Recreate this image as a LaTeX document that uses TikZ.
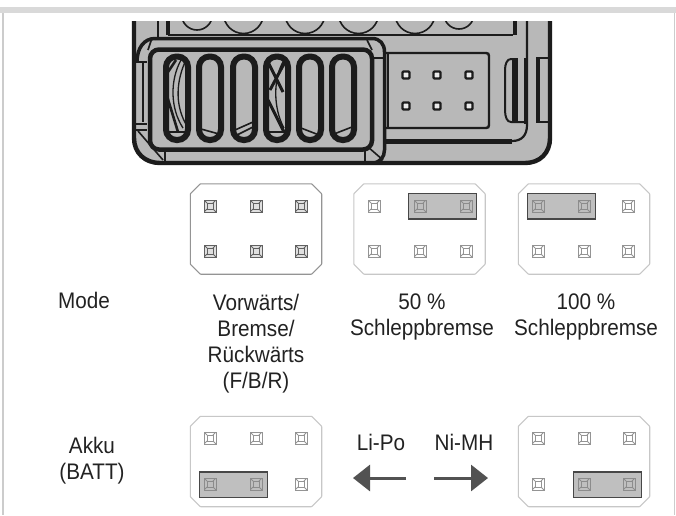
\documentclass[tikz,border=0pt]{standalone}
\usepackage{fontspec}
\setmainfont[FakeStretch=0.92]{Liberation Sans}
\usetikzlibrary{arrows.meta}
\definecolor{devfill}{HTML}{B8B8B8}
\definecolor{devline}{HTML}{1C1C1C}
\definecolor{txt}{HTML}{222222}
\colorlet{pindark}{black!62}
\colorlet{pinlight}{black!42}
\colorlet{pinover}{black!45}
\colorlet{jumpfill}{black!25}
\tikzset{
  x=1pt,y=-1pt,
  dev/.style={draw=devline,line width=1.6pt},
  slot/.style={draw=devline,line width=6pt,fill=devfill,rounded corners=10.5pt},
  slotline/.style={draw=devline,line width=1.3pt},
  hole/.style={draw=devline,line width=2.2pt,fill=white!70!devfill,minimum size=7pt,inner sep=0pt,rounded corners=1pt,rectangle},
  panelbox/.style={rectangle,minimum width=131pt,minimum height=90pt,inner sep=0pt},
  paneledge/.style={draw=#1,line width=1.1pt,fill=white,rounded corners=.6pt},
  jump/.style={draw=black!72,line width=1.5pt,fill=jumpfill,inner sep=0pt,minimum width=68pt,minimum height=25.5pt,rectangle},
  label/.style={font=\fontsize{22.5}{26}\selectfont,text=txt,align=center,inner sep=0pt},
  flow/.style={draw=black!68,line width=3pt,-{Triangle[length=17pt,width=26pt]}},
  pin/.style 2 args={rectangle,draw=#1,line width=.7pt,fill=#2,minimum size=12pt,inner sep=0pt,
    path picture={\draw[#1,line width=.5pt]
      ([xshift=3pt,yshift=-3pt]path picture bounding box.north west) rectangle ([xshift=-3pt,yshift=3pt]path picture bounding box.south east);
      \draw[#1,line width=.8pt] (path picture bounding box.north west)--([xshift=3pt,yshift=-3pt]path picture bounding box.north west)
      (path picture bounding box.north east)--([xshift=-3pt,yshift=-3pt]path picture bounding box.north east)
      (path picture bounding box.south west)--([xshift=3pt,yshift=3pt]path picture bounding box.south west)
      (path picture bounding box.south east)--([xshift=-3pt,yshift=3pt]path picture bounding box.south east);}},
}
\newcommand{\pinrow}[5]{%
  \foreach \px/\pn in {#5}{\node[pin={#3}{#4}] (#1\pn) at (\px,#2) {};}}
\newcommand{\octpanel}[4]{%
  \node[panelbox] (#1) at (#2,#3) {};
  \draw[paneledge=#4] ([xshift=10pt]#1.north west) -- ([xshift=-10pt]#1.north east) -- ([yshift=-10pt]#1.north east) -- ([yshift=10pt]#1.south east) -- ([xshift=-10pt]#1.south east) -- ([xshift=10pt]#1.south west) -- ([yshift=10pt]#1.south west) -- ([yshift=-10pt]#1.north west) -- cycle;}
\begin{document}
\begin{tikzpicture}
\useasboundingbox (0,0) rectangle (676,515);
\fill[white] (0,0) rectangle (676,515);
% page frame
\fill[black!15] (0,7) rectangle (676,13);
\fill[black!20] (2,13) rectangle (3.5,515);
\fill[black!20] (673.5,13) rectangle (675,515);
% device
\begin{scope}
\clip (120,21) rectangle (560,175);
\path[fill=devfill,draw=devline,line width=4.4pt] (134,10) -- (134,138) .. controls (134,153) and (145,163) .. (160,163) -- (525,163) .. controls (540,163) and (550,153) .. (550,138) -- (550,10);
% circles
\foreach \cx/\cy/\cr in {197/14.6/15.4,243.5/13.5/20,305/13.5/20,358.5/13.5/20,415/13.5/20,459/14/15}{\draw[dev] (\cx,\cy) circle[radius=\cr];}
\draw[dev] (158,15) -- (158,37);
\draw[dev,line width=4.5pt] (168,15) -- (168,35);
\draw[dev,line width=2pt] (168,35) -- (513,35);
\draw[dev,line width=4.5pt] (515,15) -- (515,35);
\draw[dev,line width=2.2pt] (527,15) -- (527,125) .. controls (527,135) and (522,141) .. (512,141);
\draw[devline,line width=5pt] (512,141) -- (383,141);
% left piece
\draw[dev,line width=2.6pt] (136,62) -- (147,62);
\draw[dev,line width=2pt] (143,62) -- (143,122);
\draw[dev,line width=2.6pt] (132,124) -- (147,124) (132,130) -- (147,130);
% collar
\draw[dev,line width=3.5pt] (155,38.5) -- (372,38.5) .. controls (380,38.5) and (384.5,44) .. (384.5,52) -- (384.5,150) .. controls (384.5,157) and (380,163) .. (372,163);
\draw[dev,line width=3.5pt] (137,62) .. controls (137,48) and (144,38.5) .. (155,38.5);
\draw[dev] (165,150) -- (165,163);
\draw[dev] (365,150) -- (365,163);
\draw[dev] (138,131) -- (163,160);
\draw[dev] (368,147) -- (383,160);
\draw[dev] (372,58) -- (385,58);
\draw[dev] (152,38) -- (148,50);
\draw[dev] (367,40) -- (372,50);
% inner tray
\draw[draw=devline,line width=4.5pt,fill=devfill,rounded corners=9pt] (150,49.5) rectangle (372,149.5);
% slots
\foreach \sx/\sn in {177/1,210/2,244/3,277/4,310/5,343/6}{
  \draw[slot] (\sx-11,56.5) rectangle (\sx+11,140);
}
% slot details
\draw[slotline] (181,60) .. controls (170,80) and (170,108) .. (183,128);
\draw[slotline] (185,62) .. controls (175,85) and (176,108) .. (187,126);
\draw[devline,line width=2.6pt] (168,72) -- (176,60) (167,96) -- (178,132);
\draw[slotline,line width=1.6pt] (168,132) -- (186,132);
\draw[slotline,line width=1.6pt] (201,129) -- (219,134);
\draw[slotline,line width=1.6pt] (235,130) -- (253,122) (235,136) -- (253,127);
\draw[slotline] (284,60) .. controls (273,78) and (273,108) .. (284,128);
\draw[devline,line width=3pt] (268,62) -- (283,92) (286,60) -- (270,90);
\draw[devline,line width=3pt] (268,100) -- (284,132);
\draw[slotline,line width=1.6pt] (268,132) -- (286,132);
\draw[slotline,line width=1.6pt] (301,128) -- (319,135);
\draw[slotline,line width=1.6pt] (334,134) -- (352,127);
% header
\draw[dev,line width=2.4pt] (385,53) -- (486,53) .. controls (488,53) and (489,54) .. (489,56) -- (489,125) .. controls (489,127) and (488,128) .. (486,128) -- (385,128);
\draw[dev,line width=2pt] (388,53) -- (388,128);
\foreach \hx/\hn in {406/1,437/2,469/3}{
  \node[hole] (ha\hn) at (\hx,75) {};
  \node[hole] (hb\hn) at (\hx,106) {};
}
% side clip
\draw[dev,line width=2pt] (516,59) -- (511,59) .. controls (507,59) and (505,64) .. (505,70) -- (505,110) .. controls (505,117) and (507,122) .. (511,122) -- (525,122);
\draw[dev,line width=6pt] (515,58) -- (515,122);
\draw[dev,line width=2pt] (524.5,58) -- (524.5,124);
\draw[dev,line width=2pt] (550,58) -- (538,58) (538,122) -- (550,122);
\draw[dev,line width=4pt] (538,57) -- (538,123);
\end{scope}
% panels
\octpanel{p1}{256}{229}{black!42}
\octpanel{p2}{419.5}{229}{black!22}
\octpanel{p3}{584}{229}{black!22}
\octpanel{p4}{256}{461.5}{black!22}
\octpanel{p5}{584}{461.5}{black!22}
\node[jump] (j2) at (442.5,206) {};
\node[jump] (j3) at (561.5,206) {};
\node[jump] (j4) at (233.5,484.5) {};
\node[jump] (j5) at (607.5,484.5) {};
\pinrow{a}{206}{pindark}{black!12}{210/1,256/2,301/3}
\pinrow{b}{251}{pindark}{black!12}{210/1,256/2,301/3}
\pinrow{c}{206}{pinlight}{white}{374/1}
\pinrow{c}{206}{pinover}{jumpfill}{420/2,466/3}
\pinrow{d}{251}{pinlight}{white}{374/1,420/2,466/3}
\pinrow{e}{206}{pinover}{jumpfill}{538/1,584/2}
\pinrow{e}{206}{pinlight}{white}{628/3}
\pinrow{f}{251}{pinlight}{white}{538/1,584/2,628/3}
\pinrow{g}{438}{pinlight}{white}{210/1,256/2,301/3}
\pinrow{h}{484}{pinover}{jumpfill}{210/1,256/2}
\pinrow{h}{484}{pinlight}{white}{301/3}
\pinrow{i}{438}{pinlight}{white}{538/1,584/2,629/3}
\pinrow{k}{484}{pinlight}{white}{538/1}
\pinrow{k}{484}{pinover}{jumpfill}{584/2,629/3}
% labels
\node[label,anchor=west] (mode) at (58,300) {Mode};
\node[label,anchor=north] (t1) at (256,294) {Vorwärts/\\Bremse/\\Rückwärts\\(F/B/R)};
\node[label,anchor=north] (t2) at (422,294) {50 \%\\Schleppbremse};
\node[label,anchor=north] (t3) at (586,294) {100 \%\\Schleppbremse};
\node[label] (akku) at (92,461) {Akku\\(BATT)};
\node[label] (lipo) at (381,442) {Li-Po};
\node[label] (nimh) at (464,442) {Ni-MH};
% arrows
\coordinate (la) at (406,478);
\coordinate (lb) at (353,478);
\coordinate (ra) at (434,478);
\coordinate (rb) at (488,478);
\draw[flow] (la) -- (lb);
\draw[flow] (ra) -- (rb);
\end{tikzpicture}
\end{document}
